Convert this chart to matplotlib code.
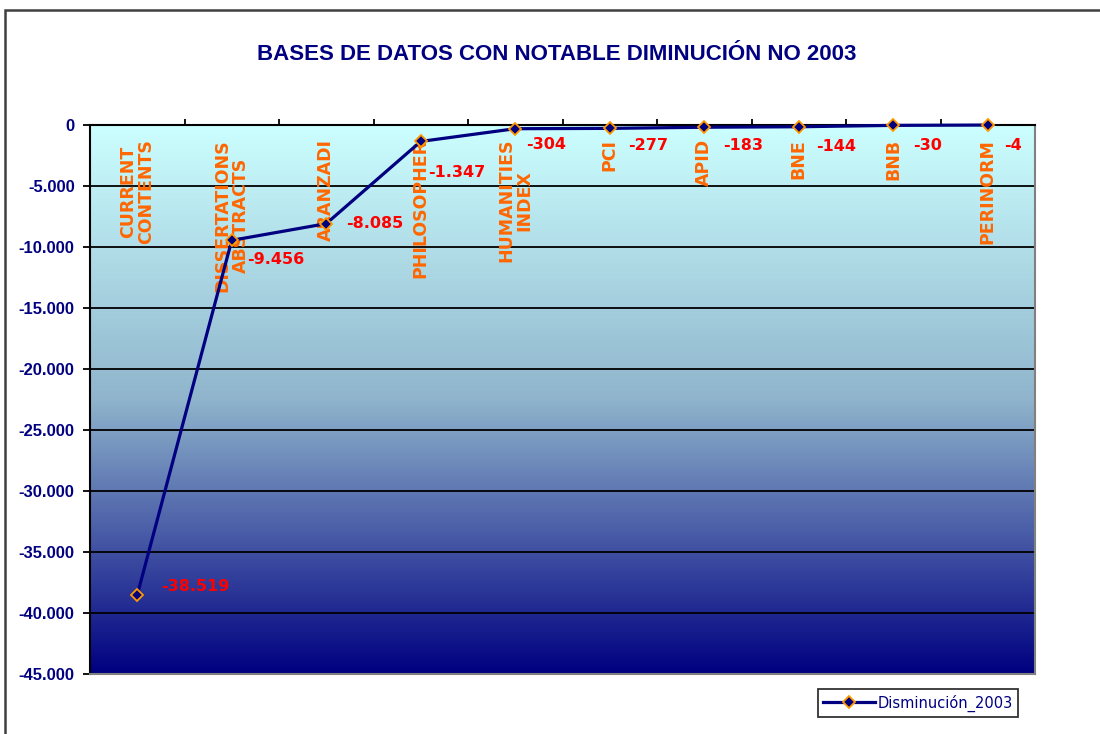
import matplotlib.pyplot as plt
import numpy as np
from matplotlib.colors import LinearSegmentedColormap
from matplotlib.patches import Rectangle
from matplotlib.ticker import FixedLocator, FuncFormatter

categories = ['CURRENT\nCONTENTS', 'DISSERTATIONS\nABSTRACTS', 'ARANZADI', 'PHILOSOPHER',
              'HUMANITIES\nINDEX', 'PCI', 'APID', 'BNE', 'BNB', 'PERINORM']
values = [-38519, -9456, -8085, -1347, -304, -277, -183, -144, -30, -4]
y_ticks = [0, -5000, -10000, -15000, -20000, -25000, -30000, -35000, -40000, -45000]
series_name = 'Disminución_2003'
title = 'BASES DE DATOS CON NOTABLE DIMINUCIÓN NO 2003'

# where each value label sits relative to its point (pixels, right / up)
label_offsets = [(24, 8), (15, -19), (20, 0), (7, -31), (11, -16),
                 (18, -17), (19, -18), (17, -20), (20, -20), (16, -20)]


def es_thousands(v, pos=None):
    return f'{int(v):,}'.replace(',', '.')


navy = '#000080'
orange = '#FF6600'

fig = plt.figure(figsize=(11, 7.34), dpi=100)
ax = fig.add_axes([90 / 1100, 1 - 674 / 734, 945 / 1100, 549 / 734])

# gradient fill of the plot area
cmap = LinearSegmentedColormap.from_list('bg', ['#CCFFFF', '#8FB4CC', navy])
ax.imshow(np.linspace(0, 1, 256).reshape(-1, 1), extent=[-0.5, len(values) - 0.5, -45000, 0],
          aspect='auto', cmap=cmap, zorder=0)

x = np.arange(len(values))
ax.plot(x, values, color=navy, lw=2.3, marker='D', markersize=6.5,
        markerfacecolor=navy, markeredgecolor='#FF9900', markeredgewidth=1.3,
        label=series_name, zorder=4, clip_on=False)

ax.set_xlim(-0.5, len(values) - 0.5)
ax.set_ylim(-45000, 0)

ax.yaxis.grid(True, color='black', lw=1.3)
ax.yaxis.set_major_locator(FixedLocator(y_ticks))
ax.yaxis.set_major_formatter(FuncFormatter(es_thousands))
ax.tick_params(axis='y', direction='out', length=5, width=1.3, pad=6,
               labelcolor=navy, labelsize=12)
for t in ax.get_yticklabels():
    t.set_fontweight('bold')
    t.set_family('Liberation Sans')

ax.xaxis.tick_top()
ax.set_xticks(np.arange(0.5, len(values) - 1, 1))
ax.set_xticklabels([])
ax.tick_params(axis='x', direction='out', length=4, width=1.3)

for side in ['left', 'top']:
    ax.spines[side].set_color('black')
    ax.spines[side].set_linewidth(1.5)
for side in ['right', 'bottom']:
    ax.spines[side].set_color('#808080')
    ax.spines[side].set_linewidth(1.5)

# category names hang under the category axis (which sits at 0)
for i, cat in enumerate(categories):
    ax.annotate(cat, xy=(i, 0), xytext=(0, -14), textcoords='offset pixels',
                rotation=90, ha='center', va='top', ma='center', linespacing=1.05,
                color=orange, fontweight='bold', fontsize=12.5,
                family='DejaVu Sans', zorder=3)

for i, v in enumerate(values):
    dx, dy = label_offsets[i]
    ax.annotate(es_thousands(v), xy=(i, v), xytext=(dx, dy), textcoords='offset pixels',
                ha='left', va='center', color='red', fontweight='bold', fontsize=11.5,
                family='DejaVu Sans', zorder=5)

fig.text(557 / 1100, 1 - 54 / 734, title, ha='center', va='center', color=navy,
         fontsize=16, fontweight='bold', family='Liberation Sans')

leg = ax.legend(loc='center', bbox_to_anchor=(918 / 1100, 1 - 703 / 734),
                bbox_transform=fig.transFigure, frameon=True, fancybox=False,
                handlelength=3.6, borderpad=0.35, handletextpad=0.2,
                prop={'family': 'DejaVu Sans', 'size': 10.5})
leg.get_frame().set_edgecolor('black')
leg.get_frame().set_linewidth(1.3)
for t in leg.get_texts():
    t.set_color(navy)

# outer chart frame
fig.add_artist(Rectangle((5 / 1100, -0.1), 1.2, 1.1 - 10 / 734, transform=fig.transFigure,
                         fill=False, edgecolor='#404040', lw=1.8))

fig.savefig('out.png', dpi=100)
